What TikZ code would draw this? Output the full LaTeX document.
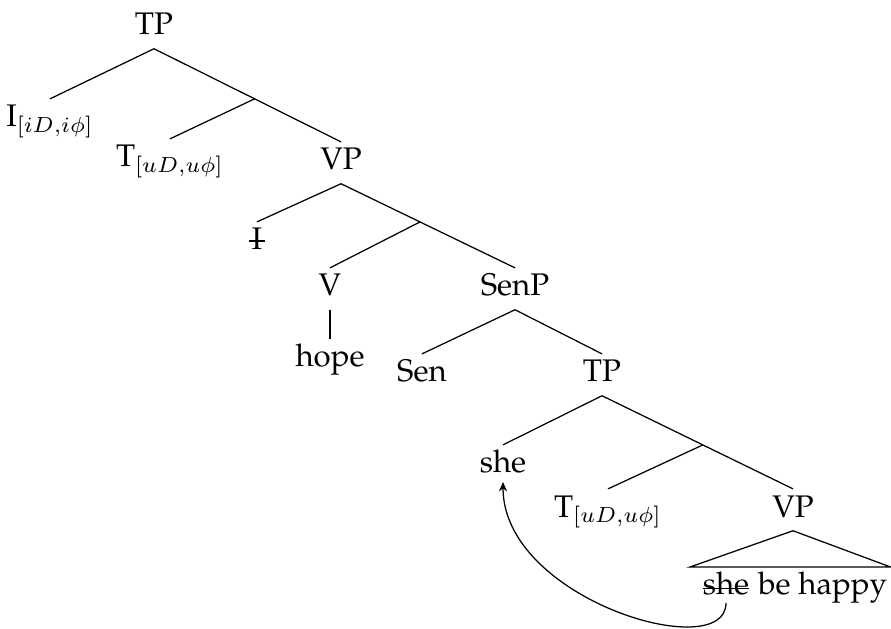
\documentclass[tikz,border=0pt]{standalone}
\usepackage[T1]{fontenc}
\usepackage{palatino}
\usetikzlibrary{calc,arrows.meta}
\newsavebox\strkbox
\newcommand\strk[3]{\sbox\strkbox{#3}\rlap{\kern-#2\raisebox{#1}{\rule{\dimexpr\wd\strkbox+#2+#2\relax}{0.45pt}}}\usebox\strkbox}
\begin{document}
\begin{tikzpicture}[x=0.32pt,y=-0.32pt,
  tn/.style={anchor=base,inner xsep=0pt,inner ysep=2.2pt,text height=6.6pt,text depth=2pt},
  wd/.style={inner sep=0pt},
  br/.style={line width=0.4pt},
  mv/.style={line width=0.4pt,-{Stealth[length=3pt,width=2.6pt]}}]
\useasboundingbox (0,0) rectangle (891,629);
% nodes
\node[tn] (TPa) at (154,35) {TP};
\node[tn] (Ia) at (50,127) {I$_{[iD,i\phi]}$};
\node[tn] (Ta) at (170,167) {T$_{[uD,u\phi]}$};
\node[tn] (VPa) at (341,170) {VP};
\node[tn] (Ib) at (257,250) {\strk{2.6pt}{0.8pt}{I}};
\node[tn] (Vb) at (330,296) {V};
\node[tn] (SenP) at (515,296) {SenP};
\node[tn] (hope) at (330,367) {hope};
\node[tn] (Sen) at (422,382) {Sen};
\node[tn] (TPb) at (602,382) {TP};
\node[tn] (sheA) at (503,473) {she};
\node[tn] (Tb) at (608,517) {T$_{[uD,u\phi]}$};
\node[tn] (VPb) at (793,517) {VP};
\node[wd,anchor=base] (sheB) at (726,595) {\strk{1.8pt}{0pt}{she}};
\node[wd,anchor=base west] (happy) at ($(sheB.base east)+(7.8,0)$) {be happy};
% branch points
\coordinate (e1) at ($(TPa.south)!0.538!(VPa.north)$);
\coordinate (e2) at ($(VPa.south)!0.454!(SenP.north)$);
\coordinate (e3) at ($(TPb.south)!0.528!(VPb.north)$);
\coordinate (roofL) at (690,567);
\coordinate (roofR) at (890.5,567);
% branches
\draw[br] (TPa.south) -- (Ia.north);
\draw[br] (TPa.south) -- (e1) -- (VPa.north);
\draw[br] (e1) -- (Ta.north);
\draw[br] (VPa.south) -- (Ib.north);
\draw[br] (VPa.south) -- (e2) -- (SenP.north);
\draw[br] (e2) -- (Vb.north);
\draw[br] (Vb.south) -- (hope.north);
\draw[br] (SenP.south) -- (Sen.north);
\draw[br] (SenP.south) -- (TPb.north);
\draw[br] (TPb.south) -- (sheA.north);
\draw[br] (TPb.south) -- (e3) -- (VPb.north);
\draw[br] (e3) -- (Tb.north);
\draw[br] (VPb.south) -- (roofL) -- (roofR) -- cycle;
% movement arrow
\draw[mv] ($(sheB.base)+(0,8)$) .. controls +(0,62) and +(0,118) .. ($(sheA.base)+(0,9)$);
\end{tikzpicture}
\end{document}
